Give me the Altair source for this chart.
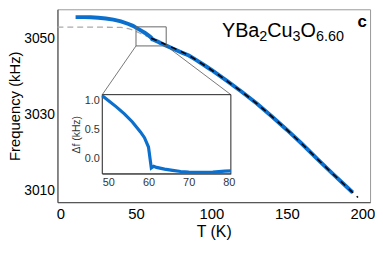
import altair as alt
import pandas as pd

# ---- data ----
# main measured curve (blue)
T_main = [10, 15, 20, 25, 30, 35, 40, 45, 48, 50, 52, 54, 56, 58, 59, 60, 60.7, 61.3, 62, 64, 66, 68, 70,
          75, 80, 85, 90, 95, 100, 110, 120, 130, 140, 150, 160, 170, 180, 190, 193.5]
f_main = [3055.55, 3055.55, 3055.5, 3055.4, 3055.2, 3054.9, 3054.45, 3053.75, 3053.25, 3052.8, 3052.34,
          3051.89, 3051.4, 3050.86, 3050.56, 3050.2, 3049.75, 3049.7, 3049.55, 3049.2, 3048.8, 3048.45,
          3048.07, 3047.2, 3046.3, 3045.5, 3044.3, 3043.0, 3041.7, 3038.9, 3036.0, 3032.9, 3029.5, 3026.0,
          3022.3, 3018.4, 3014.6, 3010.9, 3009.6]
# background fit, drawn black dashed above Tc
T_fit = [60, 65, 70, 75, 80, 85, 90, 95, 100, 110, 120, 130, 140, 150, 160, 170, 180, 190, 193.5, 197]
f_fit = [3050.0, 3049.2, 3048.3, 3047.43, 3046.5, 3045.5, 3044.3, 3043.0, 3041.7, 3038.9, 3036.0, 3032.9,
         3029.5, 3026.0, 3022.3, 3018.4, 3014.6, 3010.9, 3009.6, 3008.3]
# background extrapolated below Tc, drawn grey dashed
T_bg = [-2, 10, 20, 30, 40, 45, 48, 50, 52, 55, 60]
f_bg = [3052.95, 3052.95, 3052.93, 3052.9, 3052.85, 3052.55, 3052.15, 3051.8, 3051.45, 3050.95, 3050.0]
# zoom box
box_T = [50, 70]
box_f = [3048, 3053]
# inset: delta f
T_in = [48.5, 50, 52, 54, 56, 58, 59, 60, 60.7, 61.3, 62, 64, 66, 68, 70, 73, 76, 79, 80.5]
df_in = [1.08, 1.0, 0.89, 0.77, 0.63, 0.46, 0.36, 0.2, -0.16, -0.13, -0.15, -0.18, -0.2, -0.22, -0.23,
         -0.235, -0.23, -0.215, -0.21]
inset_T = [48.5, 80.5]
inset_df = [-0.26, 1.1]

x_ticks = [0, 50, 100, 150, 200]
y_ticks = [3010, 3030, 3050]
in_x_ticks = [50, 60, 70, 80]
in_y_ticks = [0.0, 0.5, 1.0]

title_x = "T (K)"
title_y = "Frequency (kHz)"
title_in = "Δf (kHz)"

# ---- styling ----
FONT = "Liberation Sans"
BLUE = "#0b6fce"
W, H = 316, 195
IN_L, IN_R, IN_T, IN_B = 45.3, 175.3, 86.3, 166.3

x_main = alt.Scale(domain=[-2, 205], nice=False, zero=False)
y_main = alt.Scale(domain=[3007.06, 3057.6], nice=False, zero=False)

xax = alt.Axis(values=x_ticks, title=title_x, grid=False, tickSize=0, labelPadding=4, format="d",
               labelFontSize=15, titleFontSize=16, titleFontWeight="normal", labelColor="black",
               titleColor="black", domainColor="#444", titlePadding=3, labelFont=FONT, titleFont=FONT,
               labelFlush=False)
yax = alt.Axis(values=y_ticks, title=title_y, grid=False, tickSize=0, labelPadding=3, format="d",
               labelFontSize=14, titleFontSize=15, titleFontWeight="normal", labelColor="black",
               titleColor="black", domainColor="#444", titlePadding=1, labelFont=FONT, titleFont=FONT,
               labelFlush=False)

X = alt.X("T:Q", scale=x_main, axis=xax)
Y = alt.Y("f:Q", scale=y_main, axis=yax)

main_df = pd.DataFrame({"T": T_main, "f": f_main})
fit_df = pd.DataFrame({"T": T_fit, "f": f_fit})
bg_df = pd.DataFrame({"T": T_bg, "f": f_bg})
box_df = pd.DataFrame({"T": [box_T[0]], "T2": [box_T[1]], "f": [box_f[0]], "f2": [box_f[1]]})

bg = alt.Chart(bg_df).mark_line(color="#aaaaaa", strokeWidth=1.3, strokeDash=[6, 4]).encode(x=X, y=Y)
blue = alt.Chart(main_df).mark_line(color=BLUE, strokeWidth=4).encode(x=X, y=Y)
fit = alt.Chart(fit_df).mark_line(color="black", strokeWidth=1.6, strokeDash=[6, 5]).encode(x=X, y=Y)
box = alt.Chart(box_df).mark_rect(fill=None, stroke="#666", strokeWidth=1).encode(
    x=X, x2="T2:Q", y=Y, y2="f2:Q")
con1 = alt.Chart(pd.DataFrame({"T": [box_T[0]], "f": [box_f[0]]})).mark_rule(
    color="#555", strokeWidth=0.8).encode(x=X, y=Y, x2=alt.value(IN_L), y2=alt.value(IN_T))
con2 = alt.Chart(pd.DataFrame({"T": [box_T[1]], "f": [box_f[0]]})).mark_rule(
    color="#555", strokeWidth=0.8).encode(x=X, y=Y, x2=alt.value(IN_R), y2=alt.value(IN_T))

# compound label YBa2Cu3O6.60
pieces = ["YBa", "2", "Cu", "3", "O", "6.60"]
is_sub = [False, True, False, True, False, True]
BIG, SMALL = 20, 14.5
char_w = {"Y": .667, "B": .667, "a": .556, "C": .722, "u": .556, "O": .778, ".": .278}
x0, base = 166.3, 27.7
labels = []
cx = x0
for p, s in zip(pieces, is_sub):
    size = SMALL if s else BIG
    labels.append(alt.Chart(pd.DataFrame({"t": [p]})).mark_text(
        align="left", baseline="alphabetic", font=FONT, fontSize=size, color="black").encode(
        x=alt.value(cx), y=alt.value(base + (4 if s else 0)), text="t:N"))
    cx += sum(char_w.get(ch, .556) for ch in p) * size

panel = alt.Chart(pd.DataFrame({"t": ["c"]})).mark_text(
    align="center", baseline="alphabetic", font=FONT, fontSize=17, fontWeight="bold", color="black").encode(
    x=alt.value(308), y=alt.value(18), text="t:N")

main = alt.layer(bg, blue, fit, box, con1, con2, *labels, panel)

# ---- inset ----
x_in = alt.Scale(domain=inset_T, range=[IN_L, IN_R], nice=False, zero=False)
y_in = alt.Scale(domain=inset_df, range=[IN_B, IN_T], nice=False, zero=False)
xin_ax = alt.Axis(orient="bottom", offset=-(H - IN_B), values=in_x_ticks, title=None, grid=False,
                  tickSize=0, labelPadding=3, labelFontSize=11, labelColor="#333", domainColor="#999",
                  domainWidth=1.5, labelFont=FONT, labelFlush=False)
yin_ax = alt.Axis(orient="left", offset=-IN_L, values=in_y_ticks, format=".1f", title=title_in, grid=False,
                  tickSize=0, labelPadding=3, labelFontSize=11, labelColor="#333", domainColor="#999",
                  domainWidth=1.5, titleFontSize=10.5, titleFontWeight="normal", titleColor="#333",
                  titlePadding=3, labelFont=FONT, titleFont=FONT, labelFlush=False)
XI = alt.X("T:Q", scale=x_in, axis=xin_ax)
YI = alt.Y("d:Q", scale=y_in, axis=yin_ax)

frame_df = pd.DataFrame({"T": [inset_T[0]], "T2": [inset_T[1]], "d": [inset_df[0]], "d2": [inset_df[1]]})
frame = alt.Chart(frame_df).mark_rect(fill="white", stroke="#222", strokeWidth=1).encode(
    x=XI, x2="T2:Q", y=YI, y2="d2:Q")
in_line = alt.Chart(pd.DataFrame({"T": T_in, "d": df_in})).mark_line(
    color=BLUE, strokeWidth=3.2).encode(x=XI, y=YI)
inset = alt.layer(frame, in_line)

chart = alt.layer(main, inset).resolve_scale(x="independent", y="independent").properties(
    width=W, height=H, autosize=alt.AutoSizeParams(type="none"),
    padding={"left": 50, "top": 0, "right": 5, "bottom": 45},
).configure_view(stroke="#999", strokeWidth=1)

chart.save("out.html", embed_options={"renderer": "svg", "actions": False})
